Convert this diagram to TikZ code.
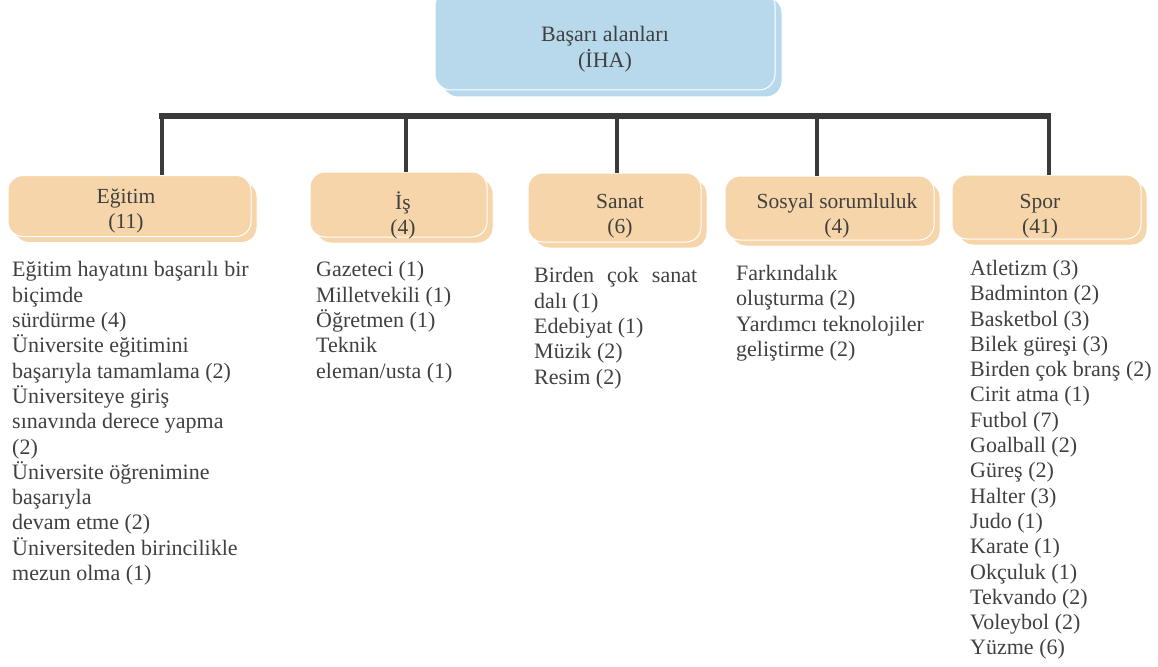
\documentclass[tikz,border=0pt]{standalone}
\usepackage{fontspec}
\setmainfont{Liberation Serif}
\usetikzlibrary{shadows}
\definecolor{txt}{HTML}{404040}
\definecolor{topblue}{HTML}{B8D9EB}
\definecolor{peach}{HTML}{F5D5A9}
\definecolor{barc}{HTML}{3A3A3A}
\newlength{\lbldrop}
\newcommand{\shiftlbl}[3]{\setlength{\lbldrop}{#2}\addtolength{\lbldrop}{6.5pt}\hspace*{#1}\raisebox{-\lbldrop}[0pt][0pt]{\begin{tabular}{@{}c@{}}#3\end{tabular}}}
\begin{document}
\begin{tikzpicture}[x=1pt,y=-1pt,
  topbox/.style={rectangle, rounded corners=16pt, fill=topblue, draw=white, line width=1pt,
    copy shadow={shadow xshift=7pt, shadow yshift=-7pt}, text=txt,
    font=\fontsize{22}{25}\selectfont, align=center, inner sep=0pt},
  catbox/.style={rectangle, rounded corners=15pt, fill=peach, draw=white, line width=1pt,
    copy shadow={shadow xshift=6pt, shadow yshift=-6pt}, text=txt,
    font=\fontsize{21.5}{25}\selectfont, align=center, inner sep=0pt},
  lst/.style={anchor=north west, inner sep=0pt, align=left, text=txt,
    font=\fontsize{22}{25.3}\selectfont, execute at begin node={\rule{0pt}{20pt}}},
  conn/.style={draw=barc, line width=4pt},
  hbar/.style={draw=barc, line width=6pt}]
\useasboundingbox (0,0) rectangle (1158,666);

% root
\node[topbox, minimum width=340pt, minimum height=100pt] (root) at (605,40)
  {\shiftlbl{0pt}{8.5pt}{Başarı alanları\\(İHA)}};

% categories
\node[catbox, minimum width=243pt, minimum height=61pt] (egitim) at (129.5,206)
  {\shiftlbl{-7pt}{3.5pt}{Eğitim\\(11)}};
\node[catbox, minimum width=177pt, minimum height=65pt] (is) at (398.5,204.5)
  {\shiftlbl{9pt}{11pt}{İş\\(4)}};
\node[catbox, minimum width=173pt, minimum height=69pt] (sanat) at (614.5,207.5)
  {\shiftlbl{11pt}{7.5pt}{Sanat\\(6)}};
\node[catbox, minimum width=209pt, minimum height=64pt] (sosyal) at (829.5,208)
  {\shiftlbl{15pt}{7pt}{Sosyal sorumluluk\\(4)}};
\node[catbox, minimum width=189pt, minimum height=64pt] (spor) at (1046.5,207)
  {\shiftlbl{-13pt}{8pt}{Spor\\(41)}};

% bar and connectors
\coordinate (barL) at (159,116.5);
\coordinate (barR) at (1051,116.5);
\coordinate (j1) at (162,116.5);
\coordinate (j2) at (405.5,116.5);
\coordinate (j3) at (617,116.5);
\coordinate (j4) at (817,116.5);
\coordinate (j5) at (1049,116.5);
\draw[conn] (j1) -- (j1 |- egitim.north);
\draw[conn] (j2) -- (j2 |- is.north);
\draw[conn] (j3) -- (j3 |- sanat.north);
\draw[conn] (j4) -- (j4 |- sosyal.north);
\draw[conn] (j5) -- (j5 |- spor.north);
\draw[hbar] (barL) -- (barR);

% lists
\node[lst] (legitim) at (12,261.5) {Eğitim hayatını başarılı bir\\biçimde\\sürdürme (4)\\Üniversite eğitimini\\başarıyla tamamlama (2)\\Üniversiteye giriş\\sınavında derece yapma\\(2)\\Üniversite öğrenimine\\başarıyla\\devam etme (2)\\Üniversiteden birincilikle\\mezun olma (1)};
\node[lst] (lis) at (316,261.5) {Gazeteci (1)\\Milletvekili (1)\\Öğretmen (1)\\Teknik\\eleman/usta (1)};
\node[lst] (lsanat) at (534,267.5) {\makebox[163pt][s]{Birden çok sanat}\\dalı (1)\\Edebiyat (1)\\Müzik (2)\\Resim (2)};
\node[lst] (lsosyal) at (736,265) {Farkındalık\\oluşturma (2)\\Yardımcı teknolojiler\\geliştirme (2)};
\node[lst] (lspor) at (970,260) {Atletizm (3)\\Badminton (2)\\Basketbol (3)\\Bilek güreşi (3)\\Birden çok branş (2)\\Cirit atma (1)\\Futbol (7)\\Goalball (2)\\Güreş (2)\\Halter (3)\\Judo (1)\\Karate (1)\\Okçuluk (1)\\Tekvando (2)\\Voleybol (2)\\Yüzme (6)};
\end{tikzpicture}
\end{document}
